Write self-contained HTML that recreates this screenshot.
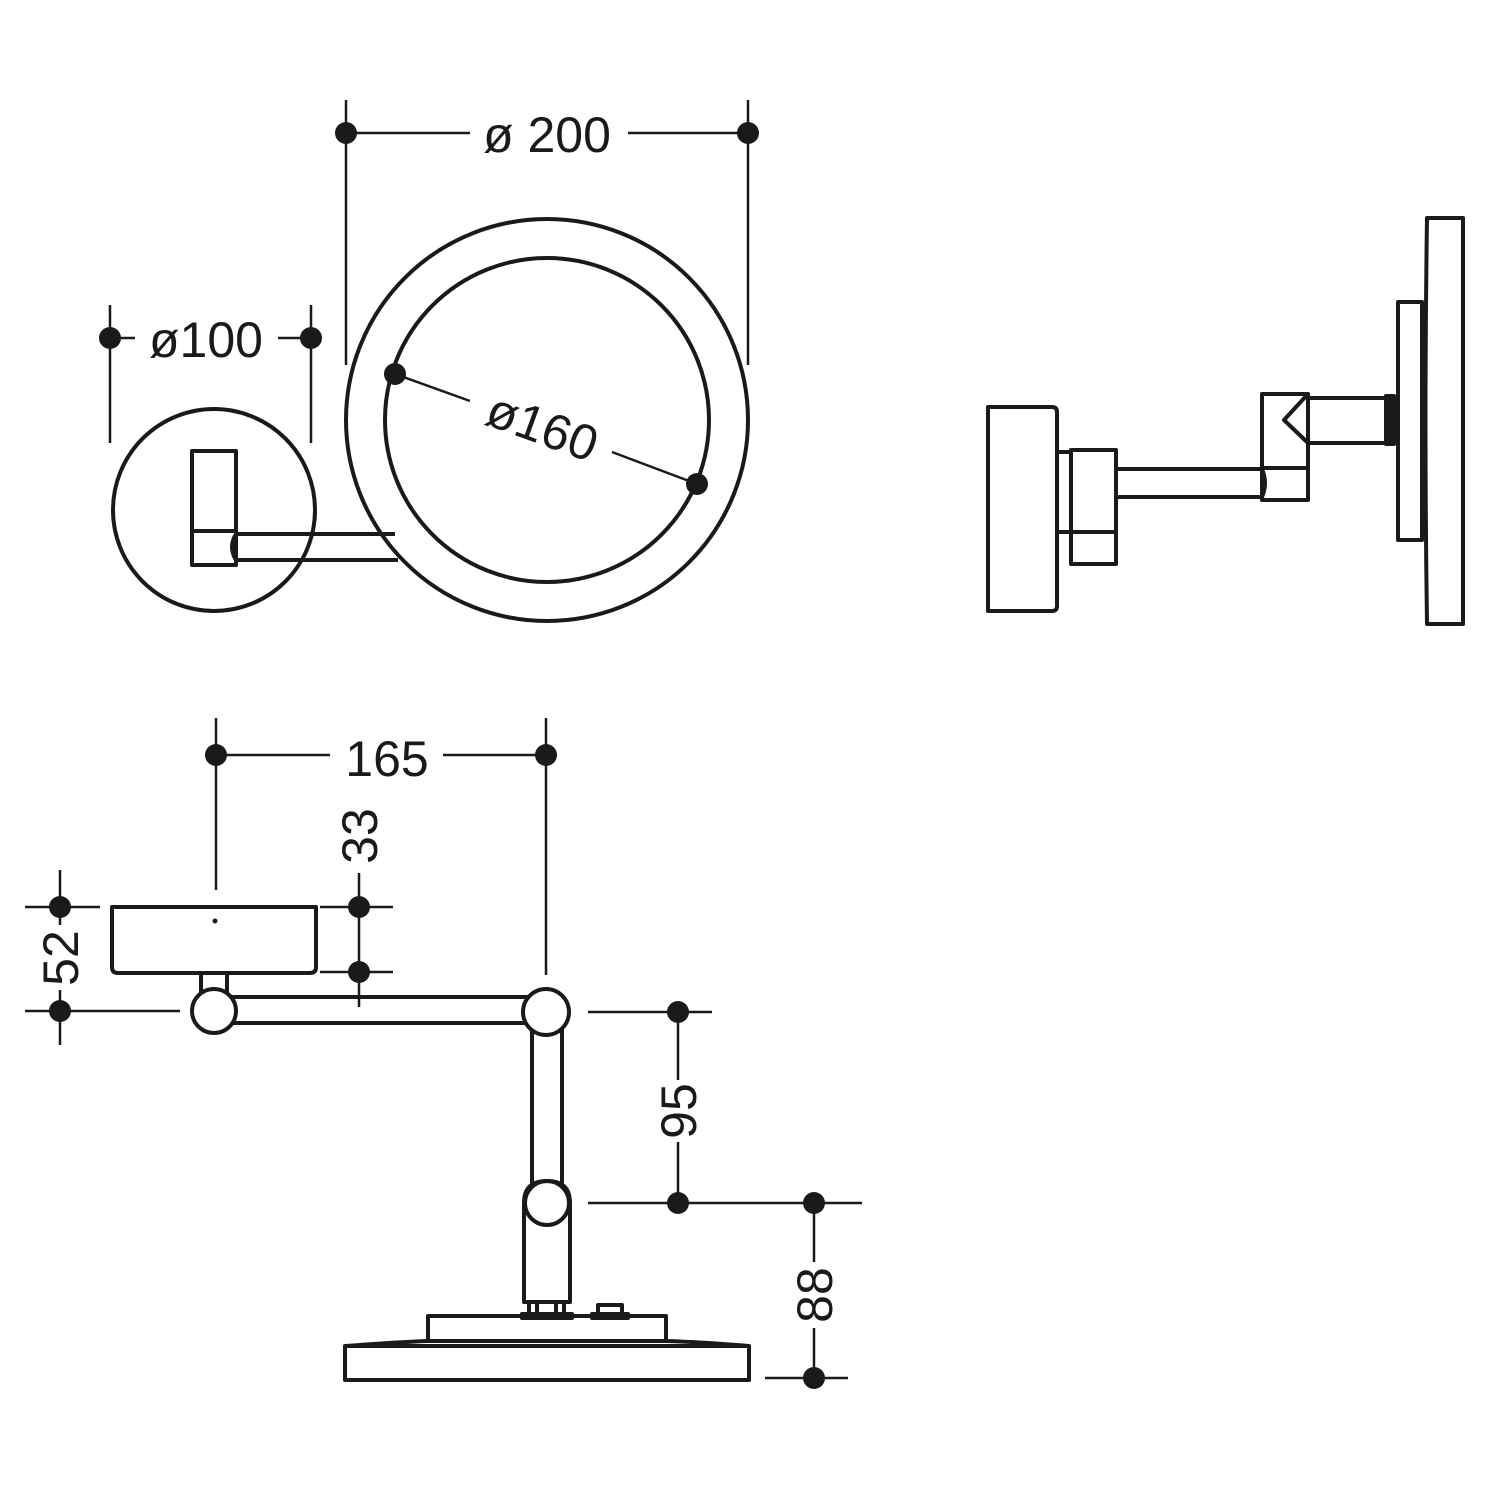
<!DOCTYPE html>
<html><head><meta charset="utf-8"><style>html,body{margin:0;padding:0;background:#fff}svg{display:block}</style></head>
<body>
<svg width="1500" height="1500" viewBox="0 0 1500 1500" xmlns="http://www.w3.org/2000/svg">
<rect width="1500" height="1500" fill="#fff"/>
<g fill="none" stroke="#1a1a1a" stroke-width="4" stroke-linejoin="round">
<!-- Top view -->
<circle cx="214" cy="510" r="101"/>
<rect x="192" y="451" width="44" height="114" fill="#fff"/>
<line x1="192" y1="531" x2="236" y2="531"/>
<path d="M236 534 L395 534 M236 560 L398 560" />
<path d="M236 534 Q228 547 236 560"/>
<circle cx="547" cy="420" r="201" fill="none"/>
<circle cx="547" cy="420" r="162"/>
<!-- Side view -->
<path d="M988 407 H1052 Q1057 407 1057 412 V606 Q1057 611 1052 611 H988 Z"/>
<rect x="1057" y="452" width="14" height="80"/>
<rect x="1071" y="450" width="45" height="114"/>
<line x1="1071" y1="532" x2="1116" y2="532"/>
<path d="M1116 469 H1262 M1116 497 H1262"/>
<path d="M1262 469 Q1268 483 1262 497"/>
<rect x="1262" y="394" width="46" height="106"/>
<line x1="1262" y1="468" x2="1308" y2="468"/>
<path d="M1308 394 L1284 420 L1308 443"/>
<rect x="1308" y="398" width="78" height="45"/>
<rect x="1386" y="396" width="8" height="48" fill="#1a1a1a"/>
<rect x="1398" y="302" width="24" height="238"/>
<path d="M1427 218 H1463 V624 H1427 Q1424 420 1427 218 Z"/>
<!-- Bottom view -->
<path d="M112 907 H316 V967 Q316 973 310 973 H118 Q112 973 112 967 Z"/>
<rect x="201" y="973" width="26" height="22"/>
<path d="M214 997 H546 M214 1023 H546"/>
<circle cx="214" cy="1011" r="22" fill="#fff"/>
<path d="M532 1012 V1190 M562 1012 V1190"/>
<circle cx="546" cy="1012" r="23" fill="#fff"/>
<path d="M524 1302 V1203 Q524 1181 547 1181 Q570 1181 570 1203 V1302 Z" fill="#fff"/>
<circle cx="547" cy="1203" r="22"/>
<rect x="529" y="1302" width="8" height="12"/><rect x="556" y="1302" width="8" height="12"/>
<rect x="522" y="1314" width="50" height="4"/>
<rect x="598" y="1305" width="24" height="10"/>
<rect x="592" y="1314" width="36" height="4"/>
<rect x="428" y="1316" width="238" height="25"/>
<path d="M345 1346 Q400 1342 428 1341 M666 1341 Q700 1342 749 1346"/>
<rect x="345" y="1346" width="404" height="34"/>
</g>
<circle cx="215" cy="921" r="2.5" fill="#1a1a1a"/>
<!-- dimension lines -->
<g stroke="#1a1a1a" stroke-width="2.5" fill="none">
<path d="M346 100 V365 M748 100 V365 M346 133 H470 M628 133 H748"/>
<path d="M110 305 V443 M311 305 V443 M110 338 H135 M278 338 H311"/>
<path d="M395 374 L470 401 M612 452 L697 484"/>
<path d="M216 718 V890 M546 718 V975 M216 755 H330 M443 755 H546"/>
<path d="M60 870 V925 M60 990 V1045 M25 907 H100 M25 1011 H180"/>
<path d="M359 873 V1007 M320 907 H393 M320 972 H393"/>
<path d="M678 1012 V1080 M678 1142 V1203 M588 1012 H712 M588 1203 H862"/>
<path d="M814 1203 V1262 M814 1328 V1378 M765 1378 H848"/>
</g>
<g fill="#1a1a1a">
<circle cx="346" cy="133" r="11"/><circle cx="748" cy="133" r="11"/>
<circle cx="110" cy="338" r="11"/><circle cx="311" cy="338" r="11"/>
<circle cx="395" cy="374" r="11"/><circle cx="697" cy="484" r="11"/>
<circle cx="216" cy="755" r="11"/><circle cx="546" cy="755" r="11"/>
<circle cx="60" cy="907" r="11"/><circle cx="60" cy="1011" r="11"/>
<circle cx="359" cy="907" r="11"/><circle cx="359" cy="972" r="11"/>
<circle cx="678" cy="1012" r="11"/><circle cx="678" cy="1203" r="11"/>
<circle cx="814" cy="1203" r="11"/><circle cx="814" cy="1378" r="11"/>
</g>
<g font-family="Liberation Sans, sans-serif" font-size="50" fill="#1a1a1a" text-anchor="middle">
<text x="547" y="152">ø 200</text>
<text x="206" y="357">ø100</text>
<text x="542" y="444" transform="rotate(20 542 428)">ø160</text>
<text x="387" y="776">165</text>
<text x="0" y="0" transform="translate(78 958) rotate(-90)">52</text>
<text x="0" y="0" transform="translate(377 836) rotate(-90)">33</text>
<text x="0" y="0" transform="translate(696 1111) rotate(-90)">95</text>
<text x="0" y="0" transform="translate(832 1295) rotate(-90)">88</text>
</g>
</svg>
</body></html>
